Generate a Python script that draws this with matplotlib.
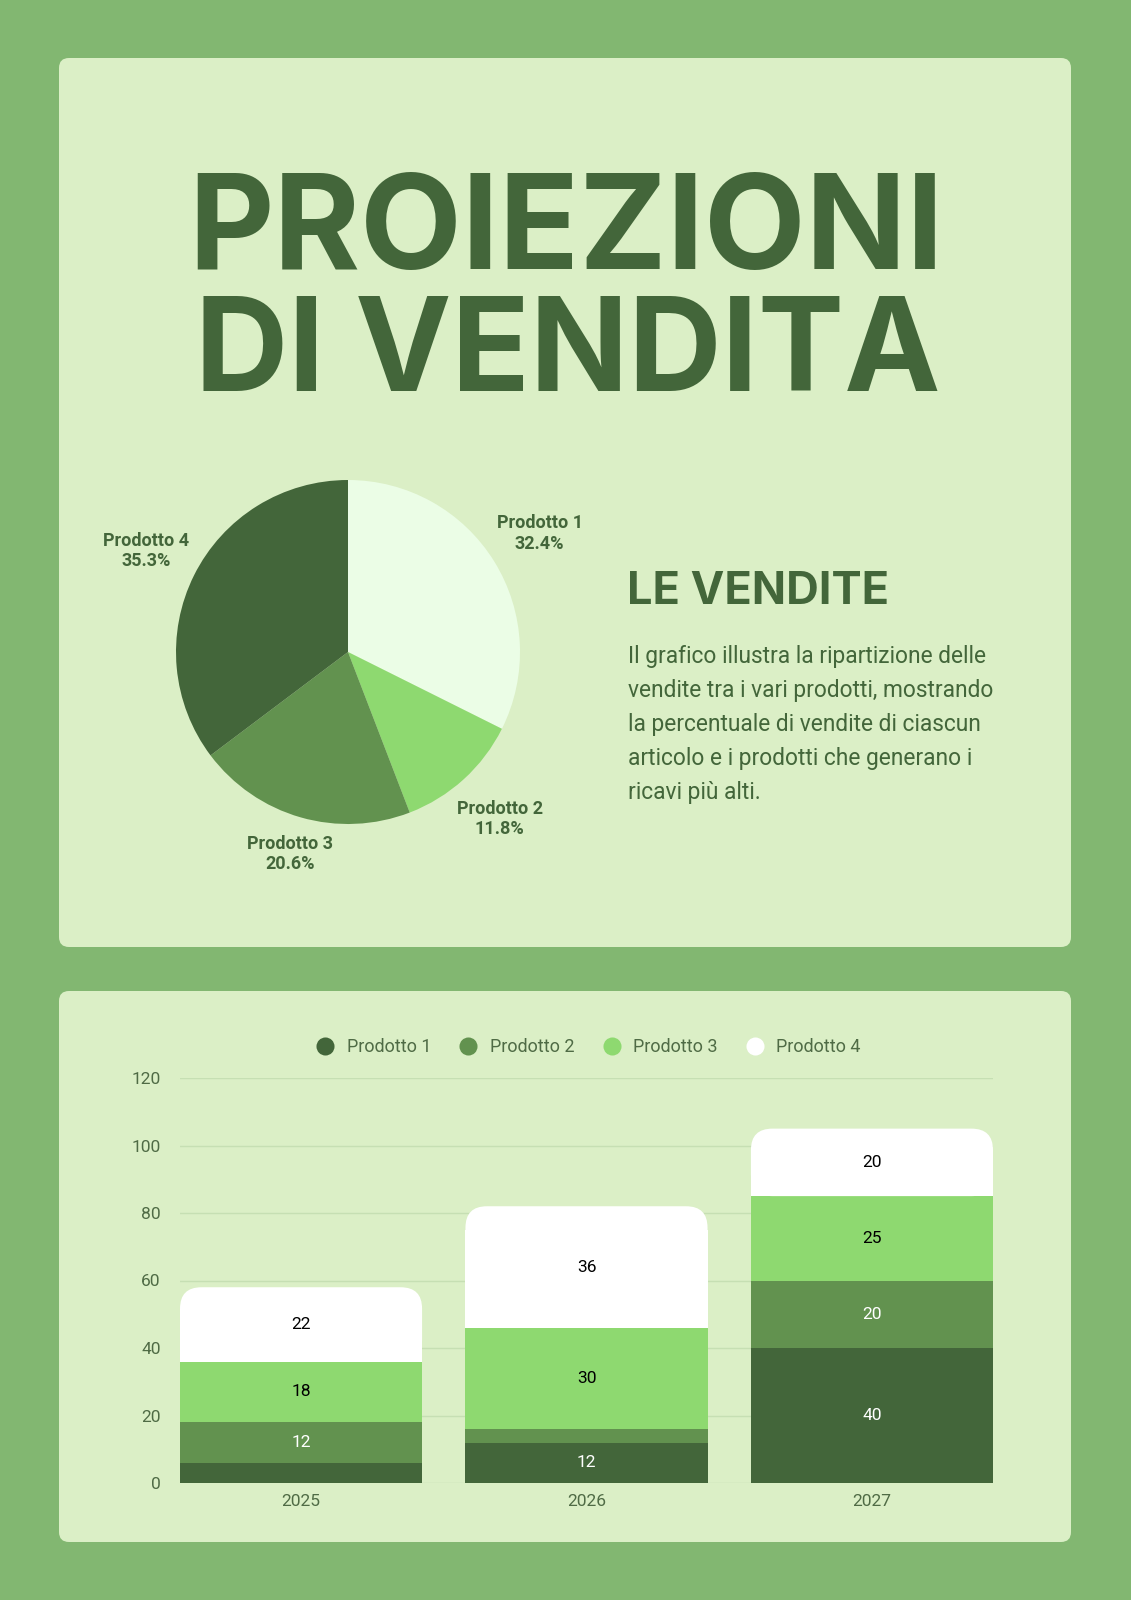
import matplotlib.pyplot as plt
import numpy as np
from matplotlib.patches import FancyBboxPatch, Rectangle
from matplotlib.lines import Line2D

# colori
BG = '#82b771'
PANEL = '#dbefc6'
DARK = '#43663a'
MID = '#62924f'
LIGHT = '#8ed970'
PALE = '#ebfde6'
TEXT = '#43663a'
TICK = '#4f6b45'

# dati torta
pie_labels = ['Prodotto 1', 'Prodotto 2', 'Prodotto 3', 'Prodotto 4']
pie_values = [32.4, 11.8, 20.6, 35.3]
pie_colors = [PALE, LIGHT, MID, DARK]

# dati barre
years = ['2025', '2026', '2027']
prod1 = [6, 12, 40]
prod2 = [12, 4, 20]
prod3 = [18, 30, 25]
prod4 = [22, 36, 20]
bar_series = [prod1, prod2, prod3, prod4]
bar_names = ['Prodotto 1', 'Prodotto 2', 'Prodotto 3', 'Prodotto 4']
bar_colors = [DARK, MID, LIGHT, '#ffffff']
label_colors = ['white', 'white', 'black', 'black']

W, H = 1131, 1600
fig = plt.figure(figsize=(W / 100, H / 100), dpi=100, facecolor=BG)

# sfondo in pixel
bg = fig.add_axes([0, 0, 1, 1])
bg.set_xlim(0, W)
bg.set_ylim(H, 0)
bg.axis('off')
for y0, y1 in [(58, 947), (991, 1542)]:
    bg.add_patch(FancyBboxPatch((59, y0), 1012, y1 - y0,
                                boxstyle='round,pad=0,rounding_size=10',
                                fc=PANEL, ec='none'))

bg.text(566, 269, 'PROIEZIONI', ha='center', va='baseline', fontsize=95,
        family='Inter', weight='bold', color=TEXT)
bg.text(568, 391, 'DI VENDITA', ha='center', va='baseline', fontsize=93,
        family='Inter', weight='bold', color=TEXT)

bg.text(627, 604, 'LE VENDITE', ha='left', va='baseline', fontsize=32.5,
        family='Inter', weight='bold', color=TEXT)
para = ['Il grafico illustra la ripartizione delle',
        'vendite tra i vari prodotti, mostrando',
        'la percentuale di vendite di ciascun',
        'articolo e i prodotti che generano i',
        'ricavi più alti.']
for i, line in enumerate(para):
    bg.text(628, 663 + i * 34, line, ha='left', va='baseline', fontsize=16.4,
            family='Roboto', color=TEXT)

# torta
cx, cy, r = 348, 652, 172
pax = fig.add_axes([(cx - 2 * r) / W, 1 - (cy + 2 * r) / H, 4 * r / W, 4 * r / H])
pax.patch.set_alpha(0)
wedges, texts = pax.pie(pie_values, colors=pie_colors, startangle=90, counterclock=False,
                        labels=[f'{n}\n{v}%' for n, v in zip(pie_labels, pie_values)],
                        textprops=dict(family='Roboto', weight='bold', fontsize=13,
                                       color=TEXT, linespacing=1.15))
label_dist = [1.31, 1.31, 1.22, 1.31]
for w, t, d in zip(wedges, texts, label_dist):
    ang = np.deg2rad((w.theta1 + w.theta2) / 2)
    t.set_position((d * np.cos(ang), d * np.sin(ang)))
    t.set_ha('center')
    t.set_va('center')
pax.set_xlim(-2, 2)
pax.set_ylim(-2, 2)

# barre
left, right, y0px, y120px = 180, 993, 1483, 1078
ax = fig.add_axes([left / W, 1 - y0px / H, (right - left) / W, (y0px - y120px) / H])
ax.set_facecolor('none')
ax.set_xlim(-0.424, 2.424)
ax.set_ylim(0, 120)
width = 0.848
x = list(range(len(years)))
bottoms = [0] * len(years)
asp = (120 / (y0px - y120px)) / (2.848 / (right - left))
rs = 0.075
for k, (vals, col) in enumerate(zip(bar_series, bar_colors)):
    for i, v in enumerate(vals):
        if k == len(bar_series) - 1:
            # segmento superiore con angoli arrotondati
            ax.add_patch(FancyBboxPatch((x[i] - width / 2, bottoms[i]), width, v,
                                        boxstyle=f'round,pad=0,rounding_size={rs}',
                                        mutation_aspect=asp, fc=col, ec='none', zorder=3))
            ax.add_patch(Rectangle((x[i] - width / 2, bottoms[i]), width, v - rs * asp * 1.1,
                                   fc=col, ec='none', zorder=3))
        else:
            ax.bar(x[i], v, width=width, bottom=bottoms[i], color=col, zorder=3)
        if v >= 10:
            ax.text(x[i], bottoms[i] + v / 2, str(v), ha='center', va='center',
                    fontsize=12.5, family='Roboto', color=label_colors[k], zorder=4)
        bottoms[i] += v

ax.set_yticks(range(0, 121, 20))
ax.set_xticks(x)
ax.set_xticklabels(years)
ax.grid(axis='y', color='#c6dfb3', lw=1, zorder=0)
for s in ax.spines.values():
    s.set_visible(False)
ax.tick_params(length=0, labelsize=12.5, labelcolor=TICK)
for lab in ax.get_xticklabels() + ax.get_yticklabels():
    lab.set_family('Roboto')
ax.tick_params(axis='y', pad=14)
ax.tick_params(axis='x', pad=8)

handles = [Line2D([], [], marker='o', ls='none', markersize=13, mfc=c, mec='none')
           for c in bar_colors]
fig.legend(handles, bar_names, loc='center', bbox_to_anchor=(584 / W, 1 - 1047 / H),
           ncol=4, frameon=False, handletextpad=0.2, columnspacing=1.05,
           prop=dict(family='Roboto', size=13), labelcolor=TICK)

fig.savefig('out.png', dpi=100, facecolor=BG)
